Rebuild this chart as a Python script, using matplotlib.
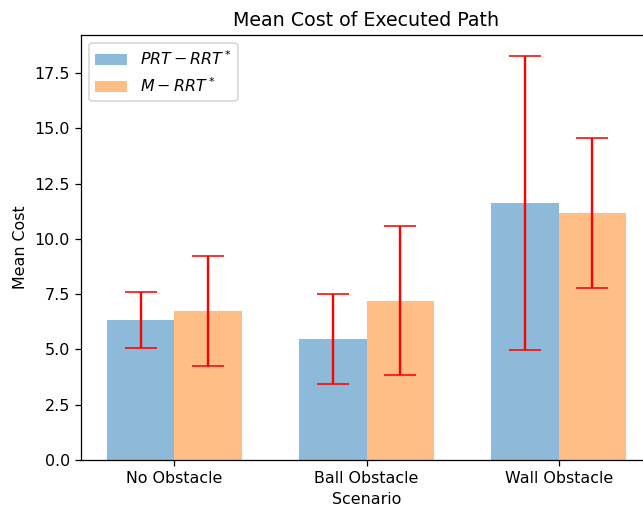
import numpy as np
import matplotlib
matplotlib.use("Agg")
import matplotlib.pyplot as plt

# scenarios and per-planner stats
scenarios = ["No Obstacle", "Ball Obstacle", "Wall Obstacle"]
prt_mean = [6.33, 5.47, 11.64]
prt_std = [1.27, 2.05, 6.65]
m_mean = [6.74, 7.21, 11.17]
m_std = [2.47, 3.38, 3.37]

x = np.arange(len(scenarios))
width = 0.35

dpi = 114
fig = plt.figure(figsize=(643 / dpi, 513 / dpi), dpi=dpi)
ax = fig.add_axes([81 / 643, 53 / 513, 571 / 643, 424.7 / 513])

ax.bar(x - width / 2, prt_mean, width, yerr=prt_std, alpha=0.5,
       ecolor="red", capsize=10, label=r"$PRT-RRT^*$")
ax.bar(x + width / 2, m_mean, width, yerr=m_std, alpha=0.5,
       ecolor="red", capsize=10, label=r"$M-RRT^*$")

ax.set_xticks(x)
ax.set_xticklabels(scenarios)
ax.set_xlabel("Scenario")
ax.set_ylabel("Mean Cost")
ax.set_title("Mean Cost of Executed Path")
ax.legend(loc="upper left")

fig.savefig("out.png", dpi=dpi)
